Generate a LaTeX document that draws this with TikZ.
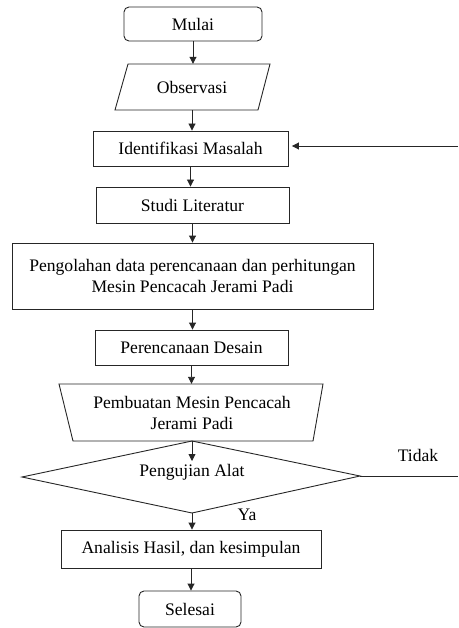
\documentclass[tikz,border=0pt]{standalone}
\usepackage{fontspec}
\setmainfont{Liberation Serif}
\usetikzlibrary{arrows.meta,calc}
\newcommand\labelfont{\fontsize{17.6}{21}\selectfont}
\begin{document}
\begin{tikzpicture}[x=1pt,y=-1pt,
  every node/.style={inner sep=0pt, execute at begin node=\labelfont},
  line/.style={draw=black!85, line width=0.9pt},
  arr/.style={line, -{Triangle[length=7pt,width=7pt]}},
  procbox/.style={line, rectangle, align=center},
  termbox/.style={line, rectangle, rounded corners=5pt, align=center},
  ghost/.style={rectangle, align=center}]
\useasboundingbox (0,0) rectangle (458,628);

\node[termbox, minimum width=138pt, minimum height=34pt] (mulai) at (193,24) {Mulai};

\node[ghost, minimum width=140pt, minimum height=46pt] (obs) at (192,87) {Observasi};
\draw[line] (128,64) -- (270,64) -- (258,110) -- (115,110) -- cycle;

\node[procbox, minimum width=195pt, minimum height=35pt] (ident) at (190.5,148.5) {Identifikasi Masalah};
\node[procbox, minimum width=193pt, minimum height=36pt] (studi) at (192.5,205) {Studi Literatur};
\node[procbox, minimum width=361pt, minimum height=66pt] (olah) at (192.5,276)
  {Pengolahan data perencanaan dan perhitungan\\Mesin Pencacah Jerami Padi};
\node[procbox, minimum width=193pt, minimum height=35pt] (desain) at (191.5,347.5) {Perencanaan Desain};

\node[ghost, minimum width=240pt, minimum height=57pt] (buat) at (192,412.5)
  {Pembuatan Mesin Pencacah\\Jerami Padi};
\draw[line] (59,384) -- (323,384) -- (313,441) -- (73,441) -- cycle;

\coordinate (dtop) at (192,441);
\coordinate (dleft) at (22,477);
\coordinate (dright) at (360,476);
\coordinate (dbot) at (192,513);
\draw[line] (dtop) -- (dright) -- (dbot) -- (dleft) -- cycle;
\node (uji) at (192,472) {Pengujian Alat};
\coordinate (din) at (192,461);

\node[procbox, minimum width=260pt, minimum height=38pt] (analisis) at (191,549) {Analisis Hasil, dan kesimpulan};
\node[termbox, minimum width=102pt, minimum height=36pt] (selesai) at (190,609) {Selesai};

\draw[arr] (mulai.south) -- (mulai.south |- obs.north);
\draw[arr] (obs.south) -- (obs.south |- ident.north);
\draw[arr] (ident.south) -- (ident.south |- studi.north);
\draw[arr] (studi.south) -- (studi.south |- olah.north);
\draw[arr] (olah.south) -- (olah.south |- desain.north);
\draw[arr] (desain.south) -- (desain.south |- buat.north);
\draw[arr] (buat.south) -- (din);
\draw[arr] (dbot) -- (dbot |- analisis.north);
\draw[arr] (analisis.south) -- (analisis.south |- selesai.north);

\coordinate (edgeT) at (458,146);
\coordinate (edgeB) at (458,476);
\draw[arr, shorten >=3.5pt] (edgeT) -- (ident.east |- edgeT);
\draw[line] (dright) -- (edgeB);
\node (tidak) at (418,455) {Tidak};
\node (ya) at (247,515) {Ya};
\end{tikzpicture}
\end{document}
